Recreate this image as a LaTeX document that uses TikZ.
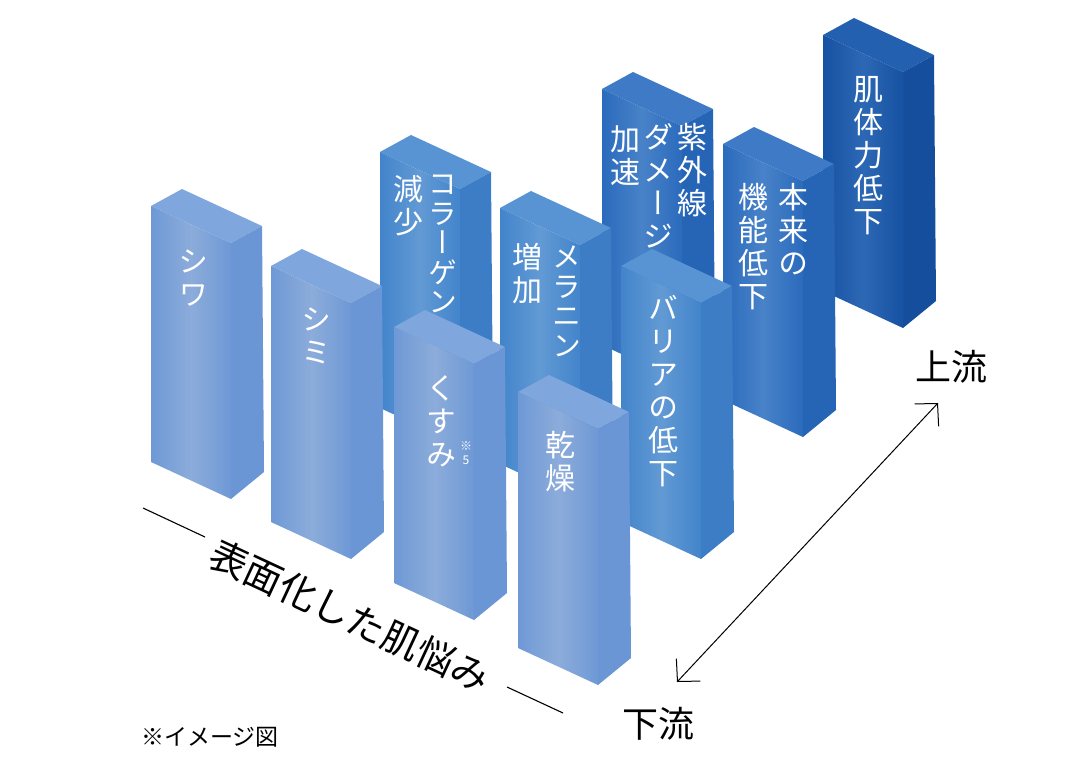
\documentclass[tikz,border=0pt]{standalone}
\usepackage{fontspec}
\setmainfont{Noto Sans CJK JP}
\newfontfamily\tatefont[RawFeature=+vert]{Noto Sans CJK JP}
\usetikzlibrary{arrows.meta}

% colour sets: base, light stripe, top face, right face
\definecolor{rowA}{RGB}{110,153,214}
\definecolor{rowAlight}{RGB}{140,172,218}
\definecolor{rowAtop}{RGB}{128,166,222}
\definecolor{rowAside}{RGB}{106,150,213}
\definecolor{rowB}{RGB}{66,132,203}
\definecolor{rowBlight}{RGB}{98,154,212}
\definecolor{rowBtop}{RGB}{88,148,212}
\definecolor{rowBside}{RGB}{60,125,198}
\definecolor{rowC}{RGB}{43,107,189}
\definecolor{rowClight}{RGB}{72,130,200}
\definecolor{rowCtop}{RGB}{62,122,198}
\definecolor{rowCside}{RGB}{38,100,182}
\definecolor{rowD}{RGB}{22,82,162}
\definecolor{rowDlight}{RGB}{44,104,180}
\definecolor{rowDtop}{RGB}{36,96,176}
\definecolor{rowDside}{RGB}{20,78,156}

% #1,#2 = top left corner of the front face, #3 = colour set
\newcommand{\pillar}[3]{%
  \fill[#3top] (#1,#2) -- ++(31,-17) -- ++(80,37) -- ++(-31,17) -- cycle;
  \fill[#3side] (#1+80,#2+37) -- ++(31,-17) -- ++(2,246) -- ++(-33,27) -- cycle;
  \shade[left color=#3,right color=#3,middle color=#3light]
    (#1,#2) -- ++(80,37) -- ++(0,256) -- ++(-80,-37) -- cycle;
}

\tikzset{
  tate/.style={text=white,font=\tatefont\fontsize{30}{33}\selectfont,
    align=center,anchor=north,inner sep=0pt},
  tatetight/.style={tate,font=\tatefont\fontsize{29}{29.5}\selectfont},
  note/.style={inner sep=0pt},
}

\begin{document}
\begin{tikzpicture}[x=1pt,y=-1pt]
\useasboundingbox (0,0) rectangle (1080,780);

% back row
\pillar{823}{35}{rowD}
\node[tate] (hadaTai) at (868,76) {肌\\体\\力\\低\\下};

\pillar{602}{89}{rowC}
\node[tate] (shigai) at (692,123) {紫\\外\\線};
\node[tate] (damage) at (658,123) {ダ\\メ\\ー\\ジ};
\node[tate] (kasoku) at (625,125) {加\\速};
\pillar{723}{144}{rowC}
\node[tate] (honrai) at (793,183) {本\\来\\の};
\node[tate] (kinou) at (753,183) {機\\能\\低\\下};

\pillar{380}{152}{rowB}
\node[tate] (genshou) at (408,175) {減\\少};
\pillar{500}{208}{rowB}
\node[tatetight] (melanin) at (567,246) {メ\\ラ\\ニ\\ン};
\node[tate] (zouka) at (527,243) {増\\加};
\pillar{621}{266}{rowB}
\node[tate] (barrier) at (663,295) {バ\\リ\\ア\\の\\低\\下};

% front row
\pillar{151}{206}{rowA}
\node[tate] (shiwa) at (193,250) {シ\\ワ};
\pillar{271}{266}{rowA}
\node[tate] (shimi) at (316,308) {シ\\ミ};
\pillar{394}{327}{rowA}
\node[tate] (kusumi) at (441,375) {く\\す\\み};
\node[note,text=white,align=center,font=\fontsize{12}{14}\selectfont] (kome) at (466,453) {※\\5};
\pillar{518}{392}{rowA}
\node[tate] (kansou) at (560,431) {乾\\燥};

% this column runs onto the top of the front pillar
\node[tatetight] (collagen) at (443,175) {コ\\ラ\\ー\\ゲ\\ン};

% labels
\node[note,font=\fontsize{36}{36}\selectfont] (upstream) at (951,367) {上流};
\node[note,font=\fontsize{36}{36}\selectfont] (downstream) at (658,724) {下流};
\coordinate (upEnd) at (938,403);
\coordinate (downEnd) at (677,682);
\draw[line width=1pt,{Straight Barb[length=16pt,width=33pt]}-{Straight Barb[length=16pt,width=33pt]}]
  (downEnd) -- (upEnd);

\node[note,rotate=-25,font=\fontsize{38}{38}\selectfont] (surface) at (350,616) {表面化した肌悩み};
\coordinate (lineA) at (143,508);
\coordinate (lineB) at (205,537);
\coordinate (lineC) at (507,687);
\coordinate (lineD) at (563,713);
\draw[line width=1.1pt] (lineA) -- (lineB);
\draw[line width=1.1pt] (lineC) -- (lineD);

\node[note,font=\fontsize{23}{23}\selectfont] (image) at (210,737) {※イメージ図};
\end{tikzpicture}
\end{document}
